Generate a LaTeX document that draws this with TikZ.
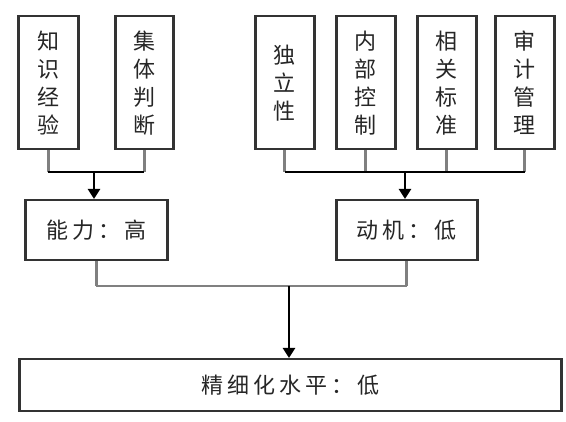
\documentclass[tikz,border=0pt]{standalone}
\usepackage{fontspec}
\newfontfamily\cjk{Noto Sans CJK SC}
\newfontfamily\cjkwide[LetterSpace=18]{Noto Sans CJK SC}
\usetikzlibrary{arrows.meta}
\tikzset{
  vbox/.style={draw=black!80, line width=2.5pt, anchor=north west, minimum height=133pt, inner sep=0pt,
    align=center, font=\cjk\fontsize{22}{28}\selectfont, text=black!85},
  hbox/.style={draw=black!80, line width=2.5pt, anchor=north west, inner sep=0pt,
    font=\cjkwide\fontsize{22}{26}\selectfont, text=black!85},
  stub/.style={draw=black!50, line width=2.8pt},
  hline/.style={draw=black, line width=2.4pt},
  arr/.style={draw=black, line width=2.4pt, -{Triangle[width=12pt,length=10pt]}}
}
\begin{document}
\begin{tikzpicture}[x=1pt,y=-1pt]
\useasboundingbox[fill=white] (0,0) rectangle (566,422);
% top boxes
\node[vbox, minimum width=60pt] (b1) at (17,15) {知\\识\\经\\验};
\node[vbox, minimum width=58pt] (b2) at (114,15) {集\\体\\判\\断};
\node[vbox, minimum width=59pt] (b3) at (254,15) {独\\立\\性};
\node[vbox, minimum width=59pt] (b4) at (335,15) {内\\部\\控\\制};
\node[vbox, minimum width=59pt] (b5) at (416,15) {相\\关\\标\\准};
\node[vbox, minimum width=59pt] (b6) at (494,15) {审\\计\\管\\理};
% middle boxes
\node[hbox, minimum width=142pt, minimum height=60pt] (a) at (24,199) {能力：高};
\node[hbox, minimum width=141pt, minimum height=60pt] (m) at (335,199) {动机：低};
% bottom box
\node[hbox, minimum width=542pt, minimum height=52pt] (f) at (18,358) {精细化水平：低};
% junctions
\coordinate (j1) at (94,172);
\coordinate (j2) at (405,172);
\coordinate (j3) at (289,286);
% left group
\draw[stub] (b1.south) -- (b1.south |- j1);
\draw[stub] (b2.south) -- (b2.south |- j1);
\draw[hline] (b1.south |- j1) -- (b2.south |- j1);
\draw[arr] (j1) -- (j1 |- a.north);
% right group
\foreach \b in {b3,b4,b5,b6} {\draw[stub] (\b.south) -- (\b.south |- j2);}
\draw[hline] (b3.south |- j2) -- (b6.south |- j2);
\draw[arr] (j2) -- (j2 |- m.north);
% bottom group
\draw[stub] (a.south) -- (a.south |- j3);
\draw[stub] (m.south) -- (m.south |- j3);
\draw[stub] (a.south |- j3) -- (m.south |- j3);
\draw[arr] (j3) -- (j3 |- f.north);
\end{tikzpicture}
\end{document}
